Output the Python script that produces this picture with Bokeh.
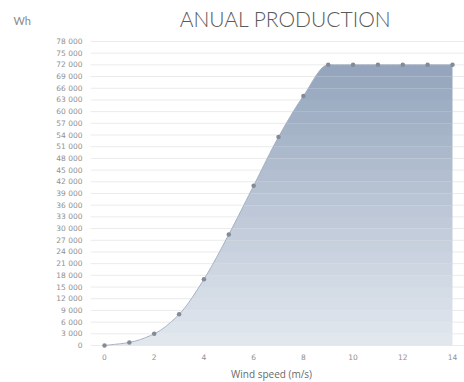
import numpy as np
from bokeh.plotting import figure
from bokeh.models import FixedTicker, CustomJSTickFormatter, Label, Range1d
from bokeh.embed import file_html
from bokeh.resources import INLINE

# Annual energy production per wind speed
wind_speed = [0, 1, 2, 3, 4, 5, 6, 7, 8, 9, 10, 11, 12, 13, 14]
production_wh = [0, 800, 3000, 8000, 17000, 28500, 41000, 53500, 64000,
                 72000, 72000, 72000, 72000, 72000, 72000]
y_ticks = list(range(0, 78001, 3000))
x_ticks = [0, 2, 4, 6, 8, 10, 12, 14]

TITLE = "ANUAL PRODUCTION"
UNIT = "Wh"
X_LABEL = "Wind speed (m/s)"


def monotone_spline(x, y, n_per_seg=20):
    """Fritsch-Carlson monotone cubic used to draw a smooth curve through the points."""
    x = np.asarray(x, float)
    y = np.asarray(y, float)
    h = np.diff(x)
    d = np.diff(y) / h
    m = np.zeros_like(y)
    m[0], m[-1] = d[0], d[-1]
    for i in range(1, len(y) - 1):
        if d[i - 1] * d[i] <= 0:
            m[i] = 0.0
        else:
            w1 = 2 * h[i] + h[i - 1]
            w2 = h[i] + 2 * h[i - 1]
            m[i] = (w1 + w2) / (w1 / d[i - 1] + w2 / d[i])
    xs, ys = [], []
    for i in range(len(x) - 1):
        t = np.linspace(0, 1, n_per_seg, endpoint=False)
        h00 = 2 * t**3 - 3 * t**2 + 1
        h10 = t**3 - 2 * t**2 + t
        h01 = -2 * t**3 + 3 * t**2
        h11 = t**3 - t**2
        xs.append(x[i] + t * h[i])
        ys.append(h00 * y[i] + h10 * h[i] * m[i] + h01 * y[i + 1] + h11 * h[i] * m[i + 1])
    xs.append([x[-1]])
    ys.append([y[-1]])
    return np.concatenate(xs), np.concatenate(ys)


cx, cy = monotone_spline(wind_speed, production_wh)

# The plot frame fills the whole canvas; axes sit at fixed positions inside it
X0, X1 = -4.184, 14.483
Y0, Y1 = -9487, 88513
AXIS_X = -0.56     # where the value axis sits
AXIS_Y = -513      # where the wind-speed axis sits

p = figure(width=464, height=382, output_backend="svg", toolbar_location=None,
           x_range=Range1d(X0, X1), y_range=Range1d(Y0, Y1),
           min_border=0, background_fill_color="white",
           border_fill_color="white", outline_line_color=None)

p.xgrid.grid_line_color = None
p.ygrid.grid_line_color = None

# Horizontal guide lines at every value tick
p.segment(x0=[AXIS_X] * len(y_ticks), x1=[X1] * len(y_ticks),
          y0=y_ticks, y1=y_ticks, line_color="#ebebeb", line_width=1)

# Vertical gradient under the curve: one colour band per tick interval
top_rgb = np.array([0x93, 0xa4, 0xbc])
bot_rgb = np.array([0xe4, 0xe9, 0xf0])
y_max = max(production_wh)
edges = np.array([t for t in y_ticks if t <= y_max], float)
n_bands = len(edges) - 1
for k in range(n_bands):
    f = (k + 0.5) / n_bands
    rgb = (bot_rgb + (top_rgb - bot_rgb) * f).astype(int)
    color = "#%02x%02x%02x" % tuple(rgb)
    lo = np.minimum(cy, edges[k])
    hi = np.minimum(cy, edges[k + 1])
    p.varea(x=cx, y1=lo, y2=hi, fill_color=color, fill_alpha=1.0)

p.line(cx, cy, line_color="#a3b0c3", line_width=1)
p.scatter(wind_speed, production_wh, size=4.5, fill_color="#858b96",
          line_color=None)

p.xaxis.ticker = FixedTicker(ticks=x_ticks)
p.yaxis.ticker = FixedTicker(ticks=y_ticks)
p.yaxis.formatter = CustomJSTickFormatter(
    code="return String(tick).replace(/\\B(?=(\\d{3})+(?!\\d))/g, ' ');")
p.xaxis.fixed_location = AXIS_Y
p.yaxis.fixed_location = AXIS_X

for ax in (p.xaxis[0], p.yaxis[0]):
    ax.axis_line_color = None
    ax.major_tick_line_color = None
    ax.minor_tick_line_color = None
    ax.major_tick_in = 0
    ax.major_tick_out = 0
    ax.minor_tick_in = 0
    ax.minor_tick_out = 0
    ax.major_label_text_font = "DejaVu Sans"
    ax.major_label_text_color = "#909090"
    ax.major_label_text_font_size = "7.5px"

p.yaxis.major_label_standoff = 8
p.xaxis.major_label_standoff = 6

title = Label(x=7.28, y=83900, text=TITLE, text_font="Lato Light, Lato",
              text_font_size="21px", text_color="#5a5a5a",
              text_baseline="middle", text_align="center")
unit = Label(x=-3.66, y=83400, text=UNIT, text_font="Lato",
             text_font_size="11px", text_color="#8a8a8a",
             text_baseline="middle", text_align="left")
xlabel = Label(x=6.72, y=-7200, text=X_LABEL, text_font="Open Sans",
               text_font_size="10px", text_color="#6a6a6a",
               text_baseline="middle", text_align="center")
for lbl in (title, unit, xlabel):
    p.add_layout(lbl)

open("out.html", "w").write(file_html(p, INLINE))
